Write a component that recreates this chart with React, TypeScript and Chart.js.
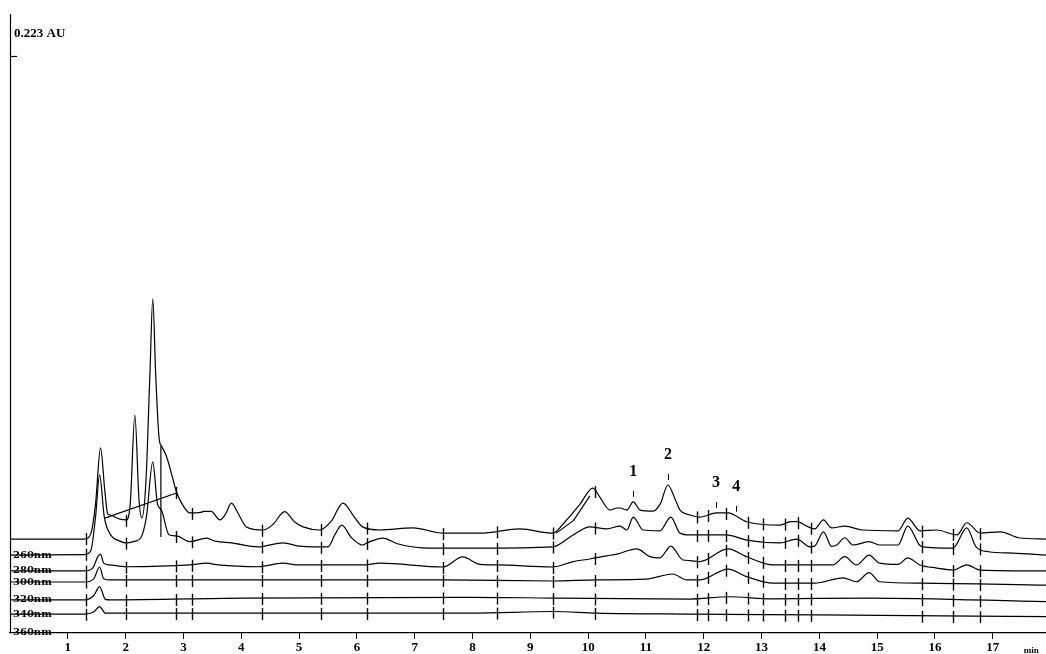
import React, { useEffect, useRef } from "react";
import { Chart, registerables } from "chart.js";

Chart.register(...registerables);

// ---- data (time in min, absorbance in mAU) ----
const xTickValues = [1, 2, 3, 4, 5, 6, 7, 8, 9, 10, 11, 12, 13, 14, 15, 16, 17];
const timeMax = 17.92;
const absMax = 239.2;
const fullScaleValue = 223; // mAU
const fullScaleLabel = "0.223 AU";
const timeUnitLabel = "min";
const wavelengthLabels = ["260nm", "280nm", "300nm", "320nm", "340nm", "360nm"];

const traceA: [number, number][] = [
  [0, 36.3], [1.29, 36.3], [1.4, 38.5], [1.48, 50], [1.566, 71.5], [1.64, 55], [1.69, 46.0], [1.73, 45.6],
  [1.9, 44.0], [2.015, 43.7], [2.08, 50], [2.16, 84.2], [2.23, 52], [2.28, 44.5], [2.35, 58], [2.42, 100],
  [2.47, 129.1], [2.52, 100], [2.58, 75], [2.62, 72.3], [2.71, 68.0], [2.8, 61], [2.88, 54.5], [3.0, 49],
  [3.11, 46.4], [3.3, 46.6], [3.35, 47.0], [3.48, 47.0], [3.63, 43.7], [3.73, 46], [3.83, 50.2], [3.95, 46],
  [4.09, 41.0], [4.38, 39.8], [4.55, 42], [4.75, 46.9], [4.92, 43], [5.07, 41.0], [5.36, 39.8], [5.55, 43],
  [5.76, 50.2], [5.95, 45], [6.1, 41.0], [6.4, 39.8], [6.97, 40.6], [7.49, 38.6], [8.13, 38.6], [8.82, 40.2],
  [9.39, 38.6], [9.6, 43], [9.86, 49.8], [10.08, 56.0], [10.2, 52.6], [10.38, 47.5], [10.5, 48.3], [10.55, 48.3],
  [10.67, 47.5], [10.78, 50.7], [10.9, 47.5], [11.12, 47.1], [11.25, 50], [11.38, 57.2], [11.5, 52], [11.59, 47.5],
  [11.76, 45.6], [11.93, 44.8], [12.22, 46.4], [12.42, 46.4], [12.74, 43.0], [13.32, 41.7], [13.5, 43.0], [13.61, 43.0],
  [13.8, 41.1], [13.92, 40.2], [14.07, 43.7], [14.21, 40.6], [14.44, 41.3], [14.74, 39.8], [15.36, 39.5], [15.53, 44.4],
  [15.74, 39.5], [16.03, 39.8], [16.38, 37.9], [16.55, 42.6], [16.78, 38.6], [17.13, 39.1], [17.47, 36.7], [17.92, 36.3],
];

const traceB: [number, number][] = [
  [0, 30.1], [1.29, 30.3], [1.4, 32], [1.48, 45], [1.55, 61.1], [1.63, 45], [1.73, 38.3], [1.9, 35.5],
  [2.015, 34.8], [2.16, 35.5], [2.26, 36.7], [2.36, 45], [2.47, 66.1], [2.55, 50], [2.62, 47.5], [2.75, 38],
  [2.88, 37.5], [3.11, 35.3], [3.4, 36.7], [3.55, 35.5], [3.83, 34.8], [4.3, 33.3], [4.41, 33.6], [4.72, 34.8],
  [5.0, 33.6], [5.3, 33.3], [5.5, 33.3], [5.62, 38], [5.74, 41.7], [5.9, 37], [6.1, 34.0], [6.17, 34.8],
  [6.45, 36.7], [6.7, 34.5], [7.26, 32.8], [8.13, 32.8], [9.39, 33.3], [9.74, 37.9], [10.03, 41.0], [10.32, 40.2],
  [10.55, 41.3], [10.67, 39.8], [10.78, 44.8], [10.95, 39.8], [11.24, 39.5], [11.43, 44.8], [11.59, 38.6], [11.76, 37.9],
  [11.93, 37.9], [12.39, 37.9], [12.74, 35.9], [13.32, 34.8], [13.61, 36.3], [13.84, 33.3], [13.92, 33.6], [14.07, 39.1],
  [14.21, 33.5], [14.3, 34.0], [14.44, 36.8], [14.58, 34.0], [14.86, 35.3], [15.04, 34.0], [15.36, 34.0], [15.53, 41.3],
  [15.73, 34.0], [15.79, 33.3], [16.31, 32.8], [16.55, 40.6], [16.71, 33.3], [16.93, 31.4], [17.35, 30.9], [17.92, 30.1],
];

const traceC: [number, number][] = [
  [0, 24.0], [1.29, 24.0], [1.43, 25.1], [1.52, 29.5], [1.566, 30.5], [1.62, 27], [1.73, 26.3], [2.015, 25.6],
  [3.11, 26.3], [3.4, 27.0], [3.6, 26.3], [4.3, 25.6], [4.72, 27.0], [5.0, 26.3], [6.1, 26.3], [6.4, 27.0],
  [7.49, 25.5], [7.83, 29.4], [8.13, 26.5], [8.42, 26.3], [9.39, 25.5], [9.74, 27.6], [10.03, 28.6], [10.32, 29.8],
  [10.5, 30.5], [10.84, 32.5], [11.07, 29.5], [11.24, 29.0], [11.43, 33.6], [11.64, 28.2], [11.76, 28.0], [11.93, 27.6],
  [12.42, 32.5], [12.74, 29.5], [13.2, 26.3], [13.89, 26.3], [14.23, 26.3], [14.44, 29.5], [14.64, 26.3], [14.86, 30.1],
  [15.04, 27.0], [15.36, 26.5], [15.53, 29.0], [15.74, 26.3], [16.03, 25.1], [16.31, 24.3], [16.55, 26.3], [16.78, 24.3],
  [17.92, 24.0],
];

const traceD: [number, number][] = [
  [0, 19.7], [1.29, 19.7], [1.45, 21], [1.55, 25.5], [1.62, 21], [1.73, 20.5], [3.0, 20.5], [6.1, 20.5],
  [7.49, 20.5], [9.39, 20.1], [10.15, 20.5], [11.0, 20.8], [11.46, 22.8], [11.71, 20.5], [11.93, 20.5], [12.42, 24.7],
  [12.74, 21.8], [13.2, 19.3], [13.92, 19.3], [14.41, 21.3], [14.64, 19.8], [14.86, 23.3], [15.04, 19.8], [15.74, 19.3],
  [17.92, 18.5],
];

const traceE: [number, number][] = [
  [0, 12.8], [1.29, 12.8], [1.45, 14.5], [1.55, 17.9], [1.65, 13], [1.73, 12.8], [4.0, 13.5], [8.0, 13.8],
  [9.39, 13.5], [11.76, 13.1], [12.42, 14.0], [13.2, 13.2], [14.86, 13.5], [17.92, 12.1],
];

const traceF: [number, number][] = [
  [0, 7.3], [1.29, 7.3], [1.45, 8.2], [1.55, 10.2], [1.65, 7.7], [3.0, 7.7], [8.0, 7.7], [9.39, 8.3],
  [10.15, 7.7], [11.76, 7.3], [14.0, 7.0], [17.92, 6.3],
];

const traces = [traceA, traceB, traceC, traceD, traceE, traceF];

// integration baselines / drop lines
const dropLine: [number, number][] = [[2.61, 72.3], [2.61, 37.1]];
const baseLine1: [number, number][] = [[1.64, 44.4], [2.88, 54.1]];
const baseLine2: [number, number][] = [[9.45, 38.6], [9.75, 43.5], [10.03, 53.0]];
const integrationLines = [dropLine, baseLine1, baseLine2];

// integration marker times (min)
const markerTimes = [1.31, 2.0, 2.88, 3.14, 4.36, 5.38, 6.17, 7.49, 8.42, 9.4, 10.12, 11.88, 12.07, 12.39, 12.76, 13.03, 13.4, 13.63, 13.86, 15.77, 16.31, 16.78];

// numbered peaks on the top trace
const peakNames = ["1", "2", "3", "4"];
const peakTimes = [10.78, 11.38, 12.21, 12.56];

const INK = "#000";

function pointAt(chart: any, dsIndex: number, t: number) {
  const meta = chart.getDatasetMeta(dsIndex);
  const pts = meta.data as any[];
  const px = chart.scales.x.getPixelForValue(t);
  for (let k = 0; k < pts.length - 1; k++) {
    const a = pts[k];
    const b = pts[k + 1];
    if (px >= a.x && px <= b.x) {
      const f = (px - a.x) / (b.x - a.x || 1);
      return { x: px, y: a.y + f * (b.y - a.y) };
    }
  }
  return { x: px, y: pts[pts.length - 1].y };
}

const decorPlugin = {
  id: "decor",
  afterDatasetsDraw(chart: any) {
    const ctx = chart.ctx as CanvasRenderingContext2D;
    const area = chart.chartArea;
    const yS = chart.scales.y;
    ctx.save();
    ctx.strokeStyle = INK;
    ctx.fillStyle = INK;
    ctx.lineWidth = 1.2;

    // left axis line
    ctx.beginPath();
    ctx.moveTo(area.left + 0.5, area.top);
    ctx.lineTo(area.left + 0.5, area.bottom);
    ctx.stroke();

    // full scale tick + label
    const fy = Math.round(yS.getPixelForValue(fullScaleValue)) + 0.5;
    ctx.beginPath();
    ctx.moveTo(area.left, fy);
    ctx.lineTo(area.left + 7, fy);
    ctx.stroke();
    ctx.font = 'bold 13px "Liberation Serif"';
    ctx.textBaseline = "middle";
    ctx.textAlign = "left";
    ctx.fillText(fullScaleLabel, area.left + 4, fy - 23);

    // integration markers on every trace
    ctx.lineWidth = 1.4;
    traces.forEach((_, i) => {
      markerTimes.forEach((t) => {
        const p = pointAt(chart, i, t);
        const x = Math.round(p.x) + 0.5;
        ctx.beginPath();
        ctx.moveTo(x, p.y - 5);
        ctx.lineTo(x, p.y + 7);
        ctx.stroke();
      });
    });

    // wavelength labels at the left end of the lower traces
    ctx.font = 'bold 10px "DejaVu Serif"';
    ctx.textBaseline = "middle";
    wavelengthLabels.forEach((lab, i) => {
      const y = i + 1 < traces.length ? chart.getDatasetMeta(i + 1).data[0].y : yS.getPixelForValue(0) - 1;
      ctx.fillText(lab, area.left + 3, y);
    });

    // numbered peaks
    ctx.font = 'bold 16px "Liberation Serif"';
    ctx.textAlign = "center";
    ctx.lineWidth = 1;
    peakNames.forEach((name, i) => {
      const p = pointAt(chart, 0, peakTimes[i]);
      const x = Math.round(p.x) + 0.5;
      ctx.beginPath();
      ctx.moveTo(x, p.y - 11);
      ctx.lineTo(x, p.y - 5);
      ctx.stroke();
      ctx.fillText(name, p.x, p.y - 30);
    });

    // time unit
    ctx.font = 'bold 9px "Liberation Serif"';
    ctx.textAlign = "left";
    ctx.fillText(timeUnitLabel, chart.scales.x.getPixelForValue(17.5) + 2, area.bottom + 18);
    ctx.restore();
  },
};

export default function App() {
  const canvasRef = useRef<HTMLCanvasElement | null>(null);

  useEffect(() => {
    const canvas = canvasRef.current;
    if (!canvas) return;

    const traceSets = traces.map((tr, i) => ({
      label: i === 0 ? "trace" : wavelengthLabels[i - 1],
      data: tr.map(([x, y]) => ({ x, y })),
      borderColor: INK,
      borderWidth: 1.2,
      pointRadius: 0,
      cubicInterpolationMode: "monotone" as const,
      fill: false,
    }));
    const lineSets = integrationLines.map((ln, i) => ({
      label: "baseline " + i,
      data: ln.map(([x, y]) => ({ x, y })),
      borderColor: INK,
      borderWidth: 1.2,
      pointRadius: 0,
      tension: 0,
      fill: false,
    }));

    const chart = new Chart(canvas, {
      type: "line",
      data: { datasets: [...traceSets, ...lineSets] as any },
      options: {
        animation: false,
        responsive: false,
        maintainAspectRatio: false,
        layout: { padding: { left: 10, top: 14, right: 0, bottom: 0 } },
        plugins: { legend: { display: false }, tooltip: { enabled: false } },
        scales: {
          x: {
            type: "linear",
            min: 0,
            max: timeMax,
            afterBuildTicks: (s: any) => {
              s.ticks = xTickValues.map((v) => ({ value: v }));
            },
            afterFit: (s: any) => {
              s.height = 21;
            },
            ticks: {
              color: "#000",
              font: { family: "Liberation Serif", size: 13, weight: "bold" },
              padding: 1,
              maxRotation: 0,
              autoSkip: false,
            },
            grid: { drawOnChartArea: false, drawTicks: true, tickLength: 6, color: "#000" },
            border: { display: true, color: "#000", width: 1.2 },
          },
          y: { type: "linear", min: 0, max: absMax, display: false },
        },
      },
      plugins: [decorPlugin],
    });
    return () => chart.destroy();
  }, []);

  return (
    <div style={{ position: "fixed", left: 0, top: 0, width: 1046, height: 654, background: "#fff" }}>
      <canvas ref={canvasRef} width={1046} height={654} />
    </div>
  );
}
